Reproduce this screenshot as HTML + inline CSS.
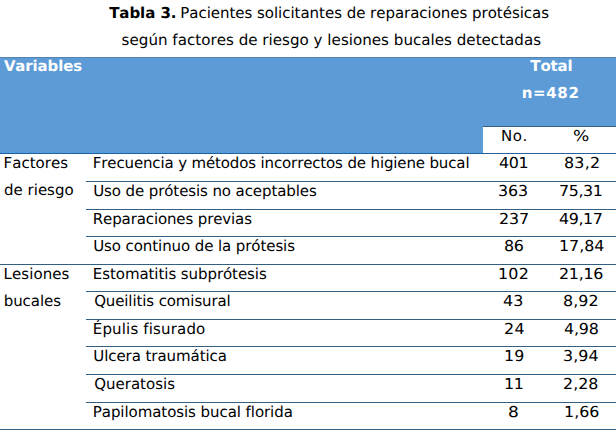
<!DOCTYPE html>
<html lang="es"><head><meta charset="utf-8"><title>Tabla 3</title>
<style>
html,body{margin:0;padding:0;background:#fff;}
body{width:616px;height:431px;position:relative;overflow:hidden;font-family:"DejaVu Sans","Liberation Sans",sans-serif;color:#000;font-variant-ligatures:none;font-kerning:none;text-rendering:geometricPrecision;}
.t{position:absolute;white-space:nowrap;line-height:20px;}
.c{position:absolute;white-space:nowrap;line-height:20px;text-align:center;}
.hl{position:absolute;height:1px;background:#335f82;}
.w{color:#fff;}
.b{font-weight:bold;}
</style></head><body>
<div style="position:absolute;left:0;top:57px;width:616px;height:96px;background:#5d9bd7"></div>
<div style="position:absolute;left:0;top:57px;width:616px;height:1px;background:#5682b0"></div>
<div style="position:absolute;left:0;top:152px;width:483px;height:1px;background:#509ddf"></div>
<div style="position:absolute;left:483px;top:127px;width:133px;height:26px;background:#fff"></div>
<div class="hl" style="left:483px;top:126px;width:133px"></div>
<div class="hl" style="left:0;top:153px;width:616px;background:#25609a"></div>
<div class="hl" style="left:86px;top:181px;width:530px"></div>
<div class="hl" style="left:86px;top:209px;width:530px"></div>
<div class="hl" style="left:86px;top:236px;width:530px"></div>
<div class="hl" style="left:0;top:264px;width:616px"></div>
<div class="hl" style="left:86px;top:291px;width:530px"></div>
<div class="hl" style="left:86px;top:319px;width:530px"></div>
<div class="hl" style="left:86px;top:346px;width:530px"></div>
<div class="hl" style="left:86px;top:374px;width:530px"></div>
<div class="hl" style="left:86px;top:402px;width:530px"></div>
<div class="hl" style="left:0;top:429px;width:616px"></div>
<div class="t b" style="left:109.19px;top:3.00px;font-size:15px;letter-spacing:-0.064px">Tabla 3.</div>
<div class="t" style="left:180.29px;top:3.00px;font-size:15px;letter-spacing:-0.031px">Pacientes solicitantes de reparaciones protésicas</div>
<div class="t" style="left:121.62px;top:29.50px;font-size:15.1px;letter-spacing:0.014px">según factores de riesgo y lesiones bucales detectadas</div>
<div class="t b w" style="left:3.89px;top:56.00px;font-size:14.9px;letter-spacing:-0.076px">Variables</div>
<div class="t b w" style="left:530.33px;top:56.00px;font-size:15px;letter-spacing:-0.141px">Total</div>
<div class="t b w" style="left:521.68px;top:83.00px;font-size:15px;letter-spacing:0.652px">n=482</div>
<div class="t" style="left:500.94px;top:126.00px;font-size:15px;letter-spacing:0.557px">No.</div>
<div class="t" style="left:573.48px;top:126.00px;font-size:15px;transform:scaleX(1.1408);transform-origin:0 0">%</div>
<div class="t" style="left:3.50px;top:153.00px;font-size:15px;letter-spacing:0.030px">Factores</div>
<div class="t" style="left:4.12px;top:180.00px;font-size:15px;letter-spacing:-0.013px">de riesgo</div>
<div class="t" style="left:3.50px;top:264.00px;font-size:15px;letter-spacing:0.087px">Lesiones</div>
<div class="t" style="left:3.66px;top:291.00px;font-size:15px;letter-spacing:-0.043px">bucales</div>
<div class="t" style="left:92.82px;top:153.00px;font-size:15px;letter-spacing:-0.141px">Frecuencia y métodos incorrectos de higiene bucal</div>
<div class="t" style="left:498.64px;top:153.00px;font-size:15px;letter-spacing:-0.340px;transform:scaleX(1.0600);transform-origin:0 0">401</div>
<div class="t" style="left:563.68px;top:153.00px;font-size:15px;letter-spacing:0.233px;transform:scaleX(1.0600);transform-origin:0 0">83,2</div>
<div class="t" style="left:93.23px;top:181.00px;font-size:15px;letter-spacing:-0.098px">Uso de prótesis no aceptables</div>
<div class="t" style="left:498.40px;top:181.00px;font-size:15px;letter-spacing:-0.148px;transform:scaleX(1.0600);transform-origin:0 0">363</div>
<div class="t" style="left:559.09px;top:181.00px;font-size:15px;letter-spacing:-0.402px;transform:scaleX(1.0600);transform-origin:0 0">75,31</div>
<div class="t" style="left:92.82px;top:209.00px;font-size:15px;letter-spacing:-0.129px">Reparaciones previas</div>
<div class="t" style="left:498.60px;top:209.00px;font-size:15px;letter-spacing:-0.150px;transform:scaleX(1.0600);transform-origin:0 0">237</div>
<div class="t" style="left:559.28px;top:209.00px;font-size:15px;letter-spacing:-0.387px;transform:scaleX(1.0600);transform-origin:0 0">49,17</div>
<div class="t" style="left:93.23px;top:236.00px;font-size:15px;letter-spacing:-0.089px">Uso continuo de la prótesis</div>
<div class="t" style="left:503.86px;top:236.00px;font-size:15px;letter-spacing:-0.429px;transform:scaleX(1.0600);transform-origin:0 0">86</div>
<div class="t" style="left:558.59px;top:236.00px;font-size:15px;letter-spacing:-0.027px;transform:scaleX(1.0600);transform-origin:0 0">17,84</div>
<div class="t" style="left:92.82px;top:264.00px;font-size:15px;letter-spacing:-0.069px">Estomatitis subprótesis</div>
<div class="t" style="left:497.77px;top:264.00px;font-size:15px;letter-spacing:0.230px;transform:scaleX(1.0600);transform-origin:0 0">102</div>
<div class="t" style="left:558.60px;top:264.00px;font-size:15px;letter-spacing:-0.261px;transform:scaleX(1.0600);transform-origin:0 0">21,16</div>
<div class="t" style="left:94.13px;top:291.00px;font-size:15px;letter-spacing:-0.116px">Queilitis comisural</div>
<div class="t" style="left:503.32px;top:291.00px;font-size:15px;letter-spacing:0.071px;transform:scaleX(1.0600);transform-origin:0 0">43</div>
<div class="t" style="left:563.43px;top:291.00px;font-size:15px;letter-spacing:0.064px;transform:scaleX(1.0600);transform-origin:0 0">8,92</div>
<div class="t" style="left:92.82px;top:319.00px;font-size:15px;letter-spacing:0.155px">Épulis fisurado</div>
<div class="t" style="left:503.67px;top:319.00px;font-size:15px;letter-spacing:0.290px;transform:scaleX(1.0600);transform-origin:0 0">24</div>
<div class="t" style="left:563.92px;top:319.00px;font-size:15px;letter-spacing:-0.206px;transform:scaleX(1.0600);transform-origin:0 0">4,98</div>
<div class="t" style="left:93.23px;top:346.00px;font-size:15px;letter-spacing:-0.066px">Ulcera traumática</div>
<div class="t" style="left:503.61px;top:346.00px;font-size:15px;letter-spacing:0.186px;transform:scaleX(1.0600);transform-origin:0 0">19</div>
<div class="t" style="left:563.11px;top:346.00px;font-size:15px;letter-spacing:0.064px;transform:scaleX(1.0600);transform-origin:0 0">3,94</div>
<div class="t" style="left:94.13px;top:374.00px;font-size:15px;letter-spacing:0.012px">Queratosis</div>
<div class="t" style="left:503.61px;top:374.00px;font-size:15px;letter-spacing:-0.346px;transform:scaleX(1.0600);transform-origin:0 0">11</div>
<div class="t" style="left:563.28px;top:374.00px;font-size:15px;letter-spacing:0.011px;transform:scaleX(1.0600);transform-origin:0 0">2,28</div>
<div class="t" style="left:92.82px;top:402.00px;font-size:15px;letter-spacing:-0.067px">Papilomatosis bucal florida</div>
<div class="t" style="left:508.22px;top:402.00px;font-size:15px;transform:scaleX(1.1362);transform-origin:0 0">8</div>
<div class="t" style="left:563.61px;top:402.00px;font-size:15px;letter-spacing:0.027px;transform:scaleX(1.0600);transform-origin:0 0">1,66</div>
</body></html>
